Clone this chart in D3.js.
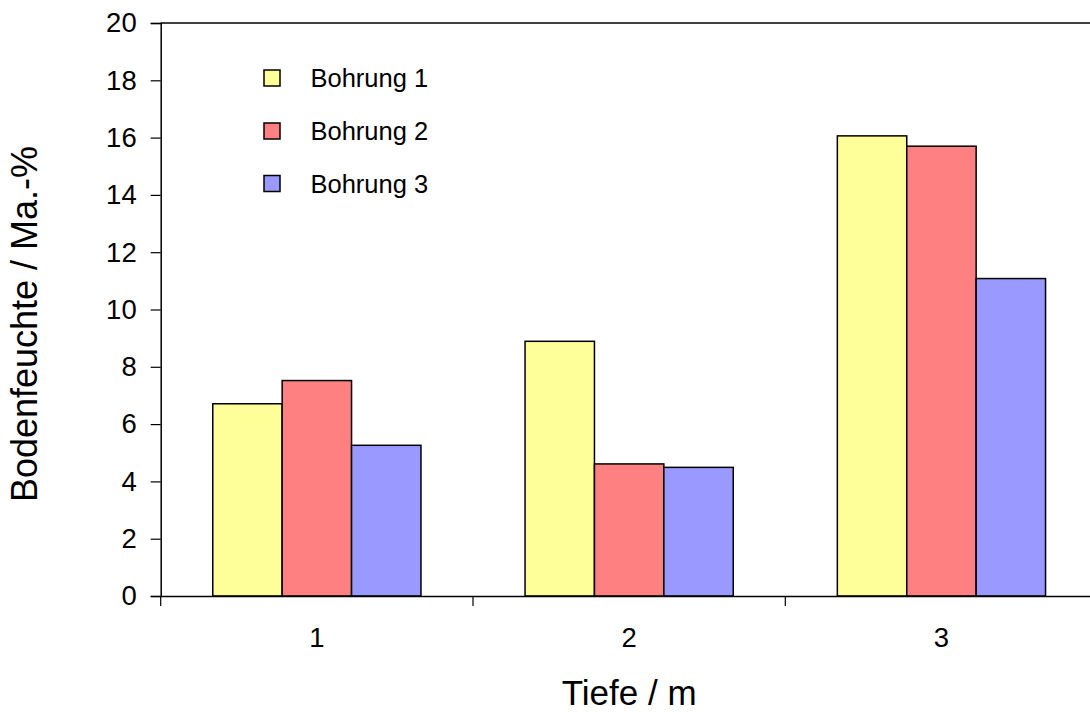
<!DOCTYPE html>
<html>
<head>
<meta charset="utf-8">
<script src="https://cdn.jsdelivr.net/npm/d3@7"></script>
<style>
html,body{margin:0;padding:0;background:#fff;}
svg{display:block;font-family:"Liberation Sans",Arial,sans-serif;}
</style>
</head>
<body>
<svg id="chart" width="1090" height="712"></svg>
<script>
const categories = ["1", "2", "3"];
const seriesNames = ["Bohrung 1", "Bohrung 2", "Bohrung 3"];
const bohrung1 = [6.71, 8.89, 16.06];
const bohrung2 = [7.52, 4.61, 15.70];
const bohrung3 = [5.26, 4.49, 11.08];
const seriesValues = [bohrung1, bohrung2, bohrung3];
const colors = ["#FFFF99", "#FF8080", "#9999FF"];
const yTicks = [0, 2, 4, 6, 8, 10, 12, 14, 16, 18, 20];
const xTitle = "Tiefe / m";
const yTitle = "Bodenfeuchte / Ma.-%";

(function () {
const svg = d3.select("#chart");
const pLeft = 160.7, pRight = 1097.6, pTop = 23, pBottom = 596;

const x0 = d3.scaleBand().domain(categories).range([pLeft, pRight]).paddingInner(0).paddingOuter(0);
const bw = x0.bandwidth();
const x1 = d3.scaleBand().domain(seriesNames).range([bw / 6, bw * 5 / 6]).padding(0);
const y = d3.scaleLinear().domain([0, 20]).range([pBottom, pTop]);

// frame lines
svg.append("line").attr("x1", pLeft).attr("x2", pRight).attr("y1", pTop).attr("y2", pTop)
  .attr("stroke", "#000").attr("stroke-width", 1.5);
svg.append("line").attr("x1", pRight).attr("x2", pRight).attr("y1", pTop).attr("y2", pBottom)
  .attr("stroke", "#000").attr("stroke-width", 1.5);

// bars
const data = [];
categories.forEach((c, i) => {
  seriesNames.forEach((s, j) => data.push({cat: c, ser: s, v: seriesValues[j][i], j}));
});
svg.append("g").selectAll("rect").data(data).join("rect")
  .attr("x", d => x0(d.cat) + x1(d.ser))
  .attr("y", d => y(d.v))
  .attr("width", x1.bandwidth())
  .attr("height", d => pBottom - y(d.v))
  .attr("fill", d => colors[d.j])
  .attr("stroke", "#000")
  .attr("stroke-width", 1.5);

// y axis
const yAxis = svg.append("g").attr("transform", `translate(${pLeft},0)`)
  .call(d3.axisLeft(y).tickValues(yTicks).tickSize(10).tickPadding(14).tickFormat(d3.format("d")));
yAxis.attr("font-size", 27.5).attr("font-family", "Liberation Sans, Arial, sans-serif");
yAxis.select(".domain").attr("stroke", "#000").attr("stroke-width", 1.5);
yAxis.selectAll(".tick line").attr("stroke", "#000").attr("stroke-width", 1.2);
yAxis.selectAll(".tick text").attr("fill", "#000");

// x axis
const xAxis = svg.append("g").attr("transform", `translate(0,${pBottom})`)
  .call(d3.axisBottom(x0).tickSize(0).tickPadding(31));
xAxis.attr("font-size", 27.5).attr("font-family", "Liberation Sans, Arial, sans-serif");
xAxis.select(".domain").attr("stroke", "#000").attr("stroke-width", 1.5);
xAxis.selectAll(".tick text").attr("fill", "#000");
// category separator ticks
const sepTicks = categories.map(c => x0(c));
svg.append("g").selectAll("line").data(sepTicks).join("line")
  .attr("x1", d => d).attr("x2", d => d)
  .attr("y1", pBottom).attr("y2", pBottom + 10)
  .attr("stroke", "#000").attr("stroke-width", 1.2);

// axis titles
svg.append("text").text(xTitle)
  .attr("x", (pLeft + pRight) / 2).attr("y", 705)
  .attr("text-anchor", "middle").attr("font-size", 35).attr("fill", "#000");
svg.append("text").text(yTitle)
  .attr("transform", `translate(37,324) rotate(-90)`)
  .attr("text-anchor", "middle").attr("font-size", 36).attr("fill", "#000");

// legend
const legendY = [78, 131, 183.5];
const lg = svg.append("g").selectAll("g").data(seriesNames).join("g")
  .attr("transform", (d, i) => `translate(264,${legendY[i]})`);
lg.append("rect").attr("x", 0).attr("y", -8).attr("width", 16).attr("height", 16)
  .attr("fill", (d, i) => colors[i]).attr("stroke", "#000").attr("stroke-width", 1.5);
lg.append("text").text(d => d).attr("x", 46.5).attr("y", 0).attr("dy", "0.36em")
  .attr("font-size", 25.5).attr("fill", "#000");
})();
</script>
</body>
</html>
